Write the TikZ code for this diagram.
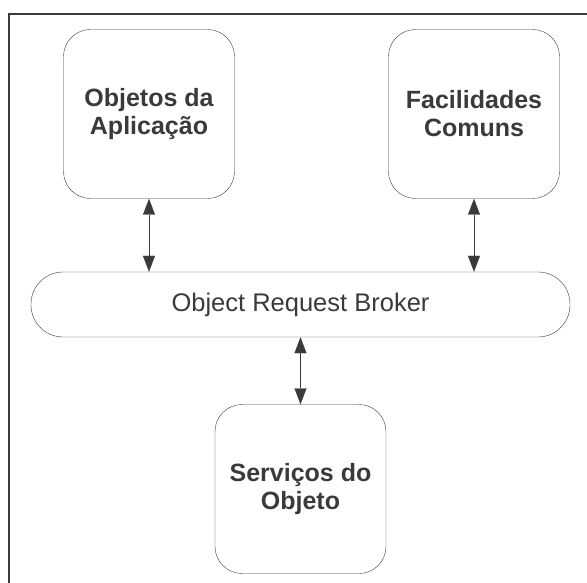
\documentclass[tikz,border=0pt]{standalone}
\usepackage{fontspec}
\setmainfont{Liberation Sans}
\usetikzlibrary{arrows.meta}
\definecolor{linegray}{HTML}{3A3A3C}
\begin{document}
\begin{tikzpicture}[x=1pt,y=-1pt]

  \tikzstyle{bloco}=[draw=linegray,rounded corners=27pt,minimum width=171pt,
                     minimum height=169pt,align=center,text=linegray,
                     font=\fontsize{25}{28}\selectfont\bfseries]
  \tikzstyle{barramento}=[draw=linegray,rounded corners=32pt,minimum width=539pt,
                          minimum height=65pt,text=linegray,
                          font=\fontsize{25.5}{28}\selectfont]
  \tikzstyle{seta}=[linegray,{Triangle[width=12pt,length=16pt]}-{Triangle[width=12pt,length=16pt]}]

  \useasboundingbox (0,0) rectangle (587,583);
  \draw[linegray,line width=2pt] (8.5,583) -- (8.5,14.5) -- (587,14.5);

  \foreach \name/\x/\y/\text in {Apl/149/114/{Objetos da\\Aplicação},
                                 Fac/474/114/{Facilidades\\Comuns},
                                 Serv/300.5/489/{Serviços do\\Objeto}}
    \node[bloco] (\name) at (\x,\y) {\text};

  \node[barramento] (ORB) at (300.5,304.5) {Object Request Broker};

  \foreach \name in {Apl,Fac}
    \draw[seta] (\name.south) -- (\name.south |- ORB.north);
  \draw[seta] (ORB.south -| Serv.north) -- (Serv.north);
\end{tikzpicture}
\end{document}
